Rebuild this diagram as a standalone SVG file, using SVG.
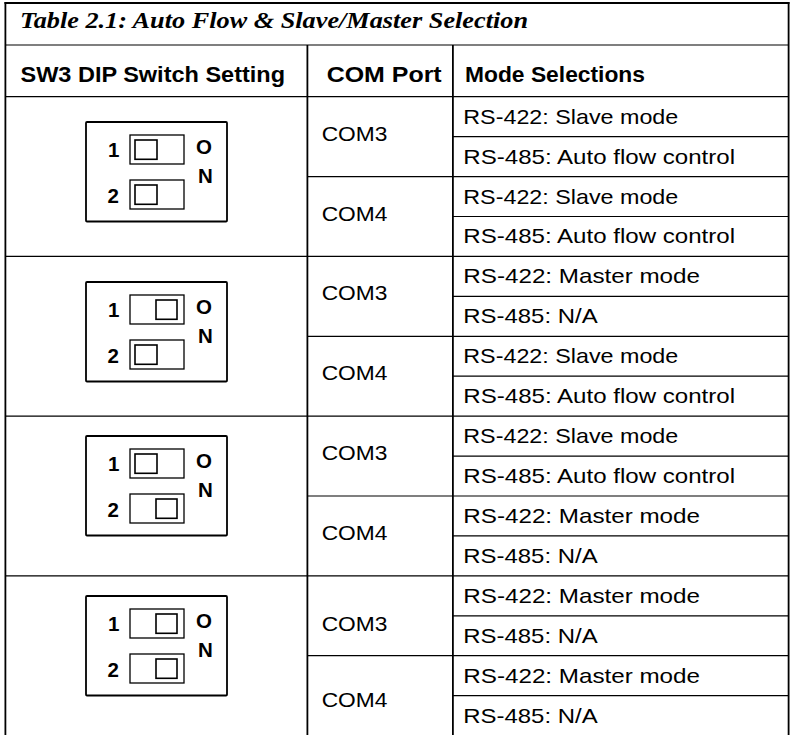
<svg xmlns="http://www.w3.org/2000/svg" xmlns:xlink="http://www.w3.org/1999/xlink" width="790" height="735" viewBox="0 0 790 735">
<style>
.t{font-family:"Liberation Serif","Times New Roman",serif;font-weight:bold;font-style:italic;font-size:24px;fill:#000}
.h{font-family:"Liberation Sans",Arial,sans-serif;font-weight:bold;font-size:21.5px;fill:#000}
.b{font-family:"Liberation Sans",Arial,sans-serif;font-size:21px;fill:#000}
.d{font-family:"Liberation Sans",Arial,sans-serif;font-weight:bold;font-size:20.5px;fill:#000}
.th{stroke:#000;stroke-width:1.8;fill:none}
.tn{stroke:#000;stroke-width:1.2;fill:none}
.box{stroke:#000;stroke-width:1.8;fill:#fff}
.slot{stroke:#000;stroke-width:1.3;fill:#fff}
.knob{stroke:#000;stroke-width:1.6;fill:#fff}
</style>
<defs>
<g id="dipBase">
<rect class="box" x="0" y="0" width="141" height="99.5" rx="1"/>
<rect class="slot" x="44" y="13" width="54" height="29"/>
<rect class="slot" x="44" y="58" width="54" height="29"/>
<text class="d" x="22" y="35">1</text>
<text class="d" x="21.5" y="80.5">2</text>
<text class="d" x="110" y="31.5">O</text>
<text class="d" x="112" y="61">N</text>
</g>
</defs>
<rect x="0" y="0" width="790" height="735" fill="#fff"/>
<g id="grid">
<line class="tn" x1="5" y1="45" x2="789" y2="45"/>
<line class="tn" x1="5" y1="96.7" x2="789" y2="96.7"/>
<line class="tn" x1="5" y1="256.4" x2="789" y2="256.4"/>
<line class="tn" x1="5" y1="416.1" x2="789" y2="416.1"/>
<line class="tn" x1="5" y1="575.9" x2="789" y2="575.9"/>
<line class="tn" x1="307" y1="176.6" x2="789" y2="176.6"/>
<line class="tn" x1="307" y1="336.3" x2="789" y2="336.3"/>
<line class="tn" x1="307" y1="496" x2="789" y2="496"/>
<line class="tn" x1="307" y1="655.7" x2="789" y2="655.7"/>
<line class="tn" x1="453" y1="136.6" x2="789" y2="136.6"/>
<line class="tn" x1="453" y1="216.5" x2="789" y2="216.5"/>
<line class="tn" x1="453" y1="296.4" x2="789" y2="296.4"/>
<line class="tn" x1="453" y1="376.2" x2="789" y2="376.2"/>
<line class="tn" x1="453" y1="456.1" x2="789" y2="456.1"/>
<line class="tn" x1="453" y1="535.9" x2="789" y2="535.9"/>
<line class="tn" x1="453" y1="615.8" x2="789" y2="615.8"/>
<line class="tn" x1="453" y1="695.7" x2="789" y2="695.7"/>
<line class="th" x1="307.4" y1="45" x2="307.4" y2="735"/>
<line class="th" x1="452.9" y1="45" x2="452.9" y2="735"/>
<line class="th" x1="4.5" y1="3" x2="789.5" y2="3" style="stroke-width:2.2"/>
<line class="th" x1="5.4" y1="2" x2="5.4" y2="735"/>
<line class="th" x1="788.6" y1="2" x2="788.6" y2="735"/>
</g>
<g id="title">
<text class="t" x="20" y="27.5" textLength="508" lengthAdjust="spacingAndGlyphs">Table 2.1: Auto Flow &amp; Slave/Master Selection</text>
</g>
<g id="header">
<text class="h" x="20.5" y="81.5" textLength="264.5" lengthAdjust="spacingAndGlyphs">SW3 DIP Switch Setting</text>
<text class="h" x="326.7" y="81.5" textLength="115" lengthAdjust="spacingAndGlyphs">COM Port</text>
<text class="h" x="465" y="81.5" textLength="180" lengthAdjust="spacingAndGlyphs">Mode Selections</text>
</g>
<g id="dip1" transform="translate(86,122)">
<use xlink:href="#dipBase"/>
<rect class="knob" x="49" y="18" width="22" height="19.3"/>
<rect class="knob" x="49" y="63" width="22" height="19.3"/>
</g>
<g id="dip2" transform="translate(86,282)">
<use xlink:href="#dipBase"/>
<rect class="knob" x="70" y="18" width="21" height="19.3"/>
<rect class="knob" x="49" y="63" width="22" height="19.3"/>
</g>
<g id="dip3" transform="translate(86,436)">
<use xlink:href="#dipBase"/>
<rect class="knob" x="49" y="18" width="22" height="19.3"/>
<rect class="knob" x="70" y="63" width="21" height="19.3"/>
</g>
<g id="dip4" transform="translate(86,596)">
<use xlink:href="#dipBase"/>
<rect class="knob" x="70" y="18" width="21" height="19.3"/>
<rect class="knob" x="70" y="63" width="21" height="19.3"/>
</g>
<g id="com">
<text class="b" x="321.7" y="140.5" textLength="65.7" lengthAdjust="spacingAndGlyphs">COM3</text>
<text class="b" x="321.7" y="220.5" textLength="65.7" lengthAdjust="spacingAndGlyphs">COM4</text>
<text class="b" x="321.7" y="300.2" textLength="65.7" lengthAdjust="spacingAndGlyphs">COM3</text>
<text class="b" x="321.7" y="380.1" textLength="65.7" lengthAdjust="spacingAndGlyphs">COM4</text>
<text class="b" x="321.7" y="459.9" textLength="65.7" lengthAdjust="spacingAndGlyphs">COM3</text>
<text class="b" x="321.7" y="539.8" textLength="65.7" lengthAdjust="spacingAndGlyphs">COM4</text>
<text class="b" x="321.7" y="630.5" textLength="65.7" lengthAdjust="spacingAndGlyphs">COM3</text>
<text class="b" x="321.7" y="707" textLength="65.7" lengthAdjust="spacingAndGlyphs">COM4</text>
</g>
<g id="modes">
<text class="b" x="463.3" y="123.6" textLength="215" lengthAdjust="spacingAndGlyphs">RS-422: Slave mode</text>
<text class="b" x="463.3" y="163.5" textLength="271.7" lengthAdjust="spacingAndGlyphs">RS-485: Auto flow control</text>
<text class="b" x="463.3" y="203.5" textLength="215" lengthAdjust="spacingAndGlyphs">RS-422: Slave mode</text>
<text class="b" x="463.3" y="243.4" textLength="271.7" lengthAdjust="spacingAndGlyphs">RS-485: Auto flow control</text>
<text class="b" x="463.3" y="283.3" textLength="236.7" lengthAdjust="spacingAndGlyphs">RS-422: Master mode</text>
<text class="b" x="463.3" y="323.3" textLength="134.3" lengthAdjust="spacingAndGlyphs">RS-485: N/A</text>
<text class="b" x="463.3" y="363.2" textLength="215" lengthAdjust="spacingAndGlyphs">RS-422: Slave mode</text>
<text class="b" x="463.3" y="403.1" textLength="271.7" lengthAdjust="spacingAndGlyphs">RS-485: Auto flow control</text>
<text class="b" x="463.3" y="443" textLength="215" lengthAdjust="spacingAndGlyphs">RS-422: Slave mode</text>
<text class="b" x="463.3" y="483" textLength="271.7" lengthAdjust="spacingAndGlyphs">RS-485: Auto flow control</text>
<text class="b" x="463.3" y="522.9" textLength="236.7" lengthAdjust="spacingAndGlyphs">RS-422: Master mode</text>
<text class="b" x="463.3" y="562.8" textLength="134.3" lengthAdjust="spacingAndGlyphs">RS-485: N/A</text>
<text class="b" x="463.3" y="602.8" textLength="236.7" lengthAdjust="spacingAndGlyphs">RS-422: Master mode</text>
<text class="b" x="463.3" y="642.7" textLength="134.3" lengthAdjust="spacingAndGlyphs">RS-485: N/A</text>
<text class="b" x="463.3" y="682.6" textLength="236.7" lengthAdjust="spacingAndGlyphs">RS-422: Master mode</text>
<text class="b" x="463.3" y="722.6" textLength="134.3" lengthAdjust="spacingAndGlyphs">RS-485: N/A</text>
</g>
</svg>
